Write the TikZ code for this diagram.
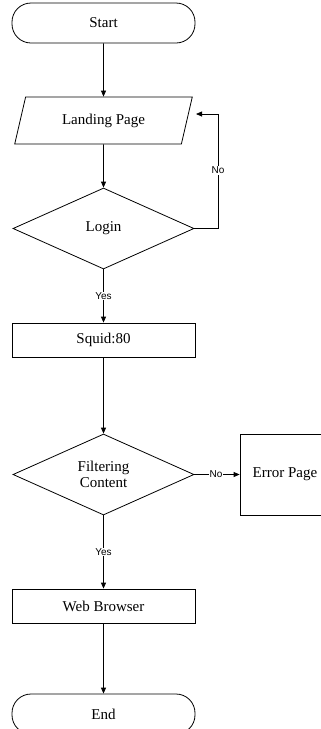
\documentclass[tikz,border=0pt]{standalone}
\usepackage{fontspec}
\setmainfont{Liberation Serif}
\newfontfamily\labelfont{Liberation Sans}
\usetikzlibrary{shapes.geometric,arrows.meta}
\begin{document}
\begin{tikzpicture}[x=1pt,y=-1pt,
  every node/.style={font=\fontsize{15}{16.5}\selectfont},
  terminal/.style={draw,rectangle,rounded corners=19pt,minimum width=183pt,minimum height=40pt,inner sep=0pt},
  inout/.style={draw,trapezium,trapezium left angle=67,trapezium right angle=113,trapezium stretches=true,minimum width=179pt,minimum height=47pt,inner sep=0pt},
  decision/.style={draw,diamond,minimum width=181pt,minimum height=81pt,inner sep=0pt,align=center},
  process/.style={draw,rectangle,minimum width=183pt,minimum height=34pt,inner sep=0pt},
  flow/.style={draw,line width=0.8pt,-{Triangle[length=6pt,width=5pt]}},
  edgelabel/.style={fill=white,inner sep=1pt,font=\labelfont\fontsize{10}{11}\selectfont}
]
\useasboundingbox (0,0) rectangle (321,729);
\clip (0,0) rectangle (321,729);
\tikzset{every path/.style={line width=0.8pt}}

\node[terminal] (start) at (103.5,23) {Start};
\node[inout] (landing) at (103.5,120.5) {Landing Page};
\node[decision] (login) at (103.5,228.5) {Login};
\node[process] (squid) at (103.5,340) {Squid:80};
\node[decision] (filter) at (103.5,474.5) {Filtering\\Content};
\node[draw,rectangle,minimum width=90pt,minimum height=81pt,inner sep=0pt] (error) at (285,474.5) {Error Page};
\node[process] (web) at (103.5,606) {Web Browser};
\node[terminal] (end) at (103.5,714) {End};

\coordinate (loopback) at (196,114);
\coordinate (loopcorner) at (218,114);

\draw[flow] (start) -- (landing);
\draw[flow] (landing) -- (login);
\draw[flow] (login) -- node[edgelabel,pos=0.5] {Yes} (squid);
\draw[flow] (squid) -- (filter);
\draw[flow] (filter.east) -- node[edgelabel,pos=0.48] {No} (error.west);
\draw[flow] (filter) -- node[edgelabel,pos=0.5] {Yes} (web);
\draw[flow] (web) -- (end);
\draw[flow] (login.east) -| node[edgelabel,pos=0.755] {No} (loopcorner) -- (loopback);
\end{tikzpicture}
\end{document}
